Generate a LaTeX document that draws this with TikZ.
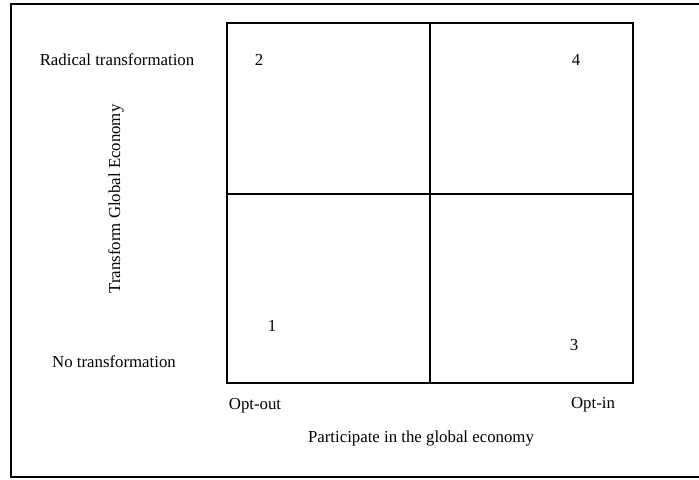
\documentclass[tikz,border=0pt]{standalone}
\usepackage{fontspec}
\setmainfont{Liberation Serif}
\begin{document}
\begin{tikzpicture}[x=0.75pt, y=-0.75pt, font=\fontsize{12.6}{15}\selectfont, line join=miter]%Matrix
	\useasboundingbox (0,0) rectangle (699,479);
	\path(227,23)coordinate(A)++(406,0)coordinate(B)++(0,360)coordinate(C)(A)++(0,360)coordinate(D);
	\path(430,23)coordinate(T)(430,383)coordinate(U)(227,194)coordinate(L)(633,194)coordinate(R);
	\draw[line width=1pt](11,4) rectangle (701,477);
	\draw[line width=1.5pt](A)--(B)--(C)--(D)--cycle (T)--(U) (L)--(R);
	\foreach \n/\x/\y in{2/259/60,4/576/60,1/272/326,3/574/345}
	\node(q\n) at (\x,\y){\n};
	\node(top) at (117,60){Radical transformation};
	\node(bot) at (114,362){No transformation};
	\node[rotate=90](yax) at (116,199){Transform Global Economy};
	\node(out) at (255,406){Opt-out};
	\node(in) at (593,405){Opt-in};
	\node(xax) at (421,438){Participate in the global economy};
\end{tikzpicture}
\end{document}
